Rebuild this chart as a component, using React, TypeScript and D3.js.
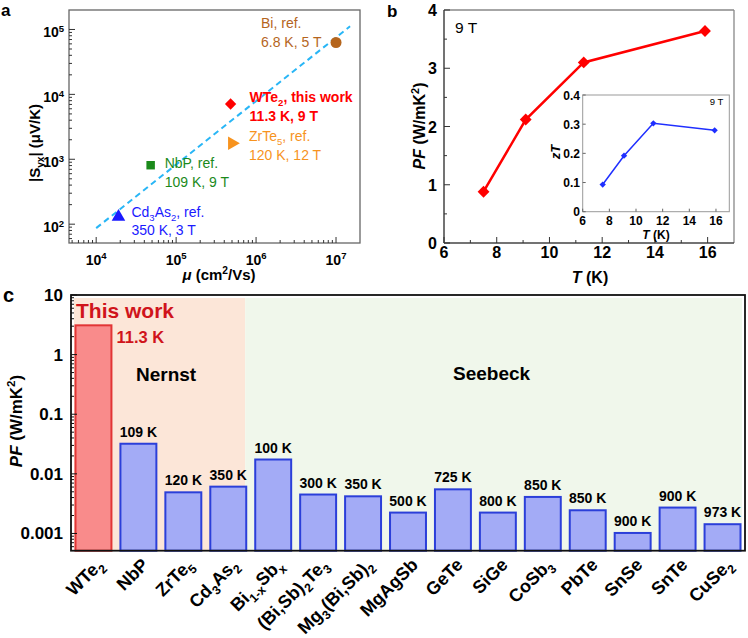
import React from "react";
import * as d3 from "d3";

const FONT = "'Liberation Sans', Arial, Helvetica, sans-serif";

// ---- panel a: |Syx| vs mobility
const scatterNames = ["Bi, ref.", "WTe_{2}, this work", "ZrTe_{5}, ref.", "NbP, ref.", "Cd_{3}As_{2}, ref."];
const scatterConditions = ["6.8 K, 5 T", "11.3 K, 9 T", "120 K, 12 T", "109 K, 9 T", "350 K, 3 T"];
const scatterMobility = [1e7, 4.8e5, 5e5, 4.8e4, 1.9e4];
const scatterSyx = [6.3e4, 7.1e3, 1.77e3, 8.1e2, 1.3e2];
const scatterColors = ["#b5651d", "#ff0000", "#f7931e", "#1b8a1b", "#1a1aff"];
const scatterShapes = ["circle", "diamond", "triangleRight", "square", "triangle"];
const fitMobility = [1e4, 1.5e7];
const fitSyx = [87, 1.12e5];
const mobilityTicks = [1e4, 1e5, 1e6, 1e7];
const syxTicks = [1e2, 1e3, 1e4, 1e5];

// ---- panel b: PF and zT vs T
const tempK = [7.5, 9.1, 11.3, 15.9];
const powerFactor = [0.88, 2.12, 3.1, 3.64];
const zTValues = [0.093, 0.192, 0.303, 0.279];
const tTicks = [6, 8, 10, 12, 14, 16];
const pfTicks = [0, 1, 2, 3, 4];
const zTTicks = [0, 0.1, 0.2, 0.3, 0.4];

// ---- panel c: PF comparison
const materials = [
  "WTe_{2}", "NbP", "ZrTe_{5}", "Cd_{3}As_{2}", "Bi_{1-x}Sb_{x}", "(Bi,Sb)_{2}Te_{3}",
  "Mg_{3}(Bi,Sb)_{2}", "MgAgSb", "GeTe", "SiGe", "CoSb_{3}", "PbTe", "SnSe", "SnTe", "CuSe_{2}",
];
const pfValues = [3.1, 0.032, 0.0049, 0.0061, 0.0174, 0.0045, 0.0042, 0.00224, 0.0055, 0.00224, 0.0041, 0.00245, 0.00102, 0.00272, 0.00143];
const tempLabels = ["11.3 K", "109 K", "120 K", "350 K", "100 K", "300 K", "350 K", "500 K", "725 K", "800 K", "850 K", "850 K", "900 K", "900 K", "973 K"];
const mechanism = ["Nernst", "Nernst", "Nernst", "Nernst", "Seebeck", "Seebeck", "Seebeck", "Seebeck", "Seebeck", "Seebeck", "Seebeck", "Seebeck", "Seebeck", "Seebeck", "Seebeck"];
const pfLogTicks = [10, 1, 0.1, 0.01, 0.001];
const pfLogTickLabels = ["10", "1", "0.1", "0.01", "0.001"];

// rich text: _{sub} ^{sup} *italic*
function parseRich(s: string) {
  const parts: { kind: string; text: string }[] = [];
  const re = /([_^])\{([^}]*)\}|\*([^*]+)\*/g;
  let last = 0;
  let m: RegExpExecArray | null;
  while ((m = re.exec(s))) {
    if (m.index > last) parts.push({ kind: "n", text: s.slice(last, m.index) });
    if (m[3]) parts.push({ kind: "i", text: m[3] });
    else parts.push({ kind: m[1] === "_" ? "sub" : "sup", text: m[2] });
    last = re.lastIndex;
  }
  if (last < s.length) parts.push({ kind: "n", text: s.slice(last) });
  return parts;
}

function Rich({ s, size }: { s: string; size: number }) {
  const parts = parseRich(s);
  let shift = 0;
  return (
    <>
      {parts.map((p, i) => {
        const target = p.kind === "sub" ? size * 0.28 : p.kind === "sup" ? -size * 0.4 : 0;
        const dy = target - shift;
        shift = target;
        const small = p.kind === "sub" || p.kind === "sup";
        return (
          <tspan key={i} dy={dy !== 0 ? dy : undefined} fontSize={small ? size * 0.68 : undefined} fontStyle={p.kind === "i" ? "italic" : undefined}>
            {p.text}
          </tspan>
        );
      })}
    </>
  );
}

function logMinor(domain: number[]) {
  const out: number[] = [];
  const lo = Math.floor(Math.log10(domain[0]));
  const hi = Math.ceil(Math.log10(domain[1]));
  for (let e = lo; e <= hi; e++) {
    for (let k = 2; k <= 9; k++) {
      const v = k * Math.pow(10, e);
      if (v > domain[0] && v < domain[1]) out.push(v);
    }
  }
  return out;
}

function symbolPath(shape: string, size: number) {
  const type =
    shape === "circle" ? d3.symbolCircle :
    shape === "square" ? d3.symbolSquare :
    shape === "diamond" ? d3.symbolSquare :
    d3.symbolTriangle;
  return d3.symbol().type(type).size(size)() as string;
}
function symbolRotate(shape: string) {
  return shape === "diamond" ? 45 : shape === "triangleRight" ? 90 : 0;
}

function PanelA() {
  const x = d3.scaleLog().domain([Math.pow(10, 3.66), Math.pow(10, 7.3)]).range([69, 360]);
  const y = d3.scaleLog().domain([Math.pow(10, 1.71), Math.pow(10, 5.3)]).range([243, 10]);
  const [x0, x1] = x.range();
  const [y0, y1] = y.range();
  const fit = d3.line<number>().x((d) => x(fitMobility[d])).y((d) => y(fitSyx[d]))([0, 1]) as string;
  const labelOffsets = [
    [-75, -14],
    [19, -2],
    [17, -2],
    [14, 3],
    [13, 0],
  ];
  const sizes = [95, 64, 80, 72, 80];
  return (
    <g fontFamily={FONT}>
      <rect x={x0} y={y1} width={x1 - x0} height={y0 - y1} fill="none" stroke="#666" strokeWidth={1.3} />
      {syxTicks.map((t) => (
        <g key={t}>
          <line x1={x0} x2={x0 + 6} y1={y(t)} y2={y(t)} stroke="#333" />
          <text x={64} y={y(t) + 8} textAnchor="end" fontWeight="bold" fontSize={14}>
            <Rich s={`10^{${Math.log10(t)}}`} size={14} />
          </text>
        </g>
      ))}
      {logMinor(y.domain()).map((t) => (
        <line key={t} x1={x0} x2={x0 + 3} y1={y(t)} y2={y(t)} stroke="#333" />
      ))}
      {mobilityTicks.map((t) => (
        <g key={t}>
          <line x1={x(t)} x2={x(t)} y1={y0} y2={y0 - 6} stroke="#333" />
          <text x={x(t)} y={265} textAnchor="middle" fontWeight="bold" fontSize={14}>
            <Rich s={`10^{${Math.log10(t)}}`} size={14} />
          </text>
        </g>
      ))}
      {logMinor(x.domain()).map((t) => (
        <line key={t} x1={x(t)} x2={x(t)} y1={y0} y2={y0 - 3} stroke="#333" />
      ))}
      <path d={fit} stroke="#29b6f6" strokeWidth={2} strokeDasharray="6,4" fill="none" />
      {scatterNames.map((n, i) => {
        const px = x(scatterMobility[i]);
        const py = y(scatterSyx[i]);
        const bold = i === 1;
        const [dx, dy] = labelOffsets[i];
        return (
          <g key={n}>
            <path
              d={symbolPath(scatterShapes[i], sizes[i])}
              transform={`translate(${px},${py}) rotate(${symbolRotate(scatterShapes[i])})`}
              fill={scatterColors[i]}
            />
            <text x={px + dx} y={py + dy} fill={scatterColors[i]} fontSize={14} fontWeight={bold ? "bold" : "normal"}>
              <Rich s={n} size={14} />
            </text>
            <text x={px + dx} y={py + dy + 18.5} fill={scatterColors[i]} fontSize={14} fontWeight={bold ? "bold" : "normal"}>
              {scatterConditions[i]}
            </text>
          </g>
        );
      })}
      <text transform="translate(40,143) rotate(-90)" textAnchor="middle" fontWeight="bold" fontSize={15}>
        <Rich s="|S_{yx}| (μV/K)" size={15} />
      </text>
      <text x={219} y={280} textAnchor="middle" fontWeight="bold" fontSize={15}>
        <Rich s="*μ* (cm^{2}/Vs)" size={15} />
      </text>
      <text x={1} y={16} fontWeight="bold" fontSize={17}>a</text>
    </g>
  );
}

function PanelB() {
  const x = d3.scaleLinear().domain([6, 17]).range([444, 734]);
  const y = d3.scaleLinear().domain([0, 4]).range([243, 10]);
  const [x0, x1] = x.range();
  const [y0, y1] = y.range();
  const line = d3.line<number>().x((d, i) => x(tempK[i])).y((d) => y(d));

  const ix = d3.scaleLinear().domain([6, 17]).range([582.7, 729.3]);
  const iy = d3.scaleLinear().domain([0, 0.4]).range([211.7, 95]);
  const [ix0, ix1] = ix.range();
  const [iy0, iy1] = iy.range();
  const iline = d3.line<number>().x((d, i) => ix(tempK[i])).y((d) => iy(d));
  const diamond = (s: number) => symbolPath("diamond", s);

  return (
    <g fontFamily={FONT}>
      <line x1={x0} x2={x1} y1={y1} y2={y1} stroke="#888" strokeWidth={1.3} />
      <line x1={x1} x2={x1} y1={y1} y2={y0} stroke="#888" strokeWidth={1.3} />
      <line x1={x0} x2={x1} y1={y0} y2={y0} stroke="#444" strokeWidth={1.5} />
      <line x1={x0} x2={x0} y1={y1} y2={y0} stroke="#444" strokeWidth={1.5} />
      {pfTicks.map((t) => (
        <g key={t}>
          <line x1={x0} x2={x0 + 6} y1={y(t)} y2={y(t)} stroke="#333" />
          <text x={437} y={y(t) + 6} textAnchor="end" fontWeight="bold" fontSize={16}>{t}</text>
        </g>
      ))}
      {d3.range(0.5, 4, 1).map((t) => (
        <line key={t} x1={x0} x2={x0 + 3} y1={y(t)} y2={y(t)} stroke="#333" />
      ))}
      {tTicks.map((t) => (
        <g key={t}>
          <line x1={x(t)} x2={x(t)} y1={y0} y2={y0 - 6} stroke="#333" />
          <text x={x(t)} y={258} textAnchor="middle" fontWeight="bold" fontSize={16}>{t}</text>
        </g>
      ))}
      {d3.range(7, 17, 2).map((t) => (
        <line key={t} x1={x(t)} x2={x(t)} y1={y0} y2={y0 - 3} stroke="#333" />
      ))}
      <path d={line(powerFactor) as string} stroke="#ff0000" strokeWidth={2.5} fill="none" />
      {powerFactor.map((v, i) => (
        <path key={i} d={diamond(70)} transform={`translate(${x(tempK[i])},${y(v)}) rotate(45)`} fill="#ff0000" />
      ))}
      <text x={455} y={33} fontSize={15.5}>9 T</text>
      <text transform="translate(425,126) rotate(-90)" textAnchor="middle" fontWeight="bold" fontSize={16}>
        <Rich s="*PF* (W/mK^{2})" size={16} />
      </text>
      <text x={590} y={283} textAnchor="middle" fontWeight="bold" fontSize={16}>
        <Rich s="*T* (K)" size={16} />
      </text>

      {/* inset */}
      <rect x={ix0} y={iy1} width={ix1 - ix0} height={iy0 - iy1} fill="#fff" stroke="#999" strokeWidth={1} />
      {zTTicks.map((t) => (
        <g key={t}>
          <line x1={ix0} x2={ix0 + 3} y1={iy(t)} y2={iy(t)} stroke="#666" />
          <text x={580} y={iy(t) + 4.5} textAnchor="end" fontWeight="bold" fontSize={12}>{t}</text>
        </g>
      ))}
      {tTicks.map((t) => (
        <g key={t}>
          <line x1={ix(t)} x2={ix(t)} y1={iy0} y2={iy0 - 3} stroke="#666" />
          <text x={ix(t)} y={225} textAnchor="middle" fontWeight="bold" fontSize={12}>{t}</text>
        </g>
      ))}
      <path d={iline(zTValues) as string} stroke="#1f2fff" strokeWidth={1.5} fill="none" />
      {zTValues.map((v, i) => (
        <path key={i} d={diamond(20)} transform={`translate(${ix(tempK[i])},${iy(v)}) rotate(45)`} fill="#1f2fff" />
      ))}
      <text x={ix1 - 6} y={105} textAnchor="end" fontSize={9.5}>9 T</text>
      <text transform="translate(560,152) rotate(-90)" textAnchor="middle" fontWeight="bold" fontSize={13}>
        <Rich s="*zT*" size={13} />
      </text>
      <text x={656} y={239} textAnchor="middle" fontWeight="bold" fontSize={12}>
        <Rich s="*T* (K)" size={12} />
      </text>
      <text x={387} y={17} fontWeight="bold" fontSize={17}>b</text>
    </g>
  );
}

function PanelC() {
  const x = d3.scaleBand<string>().domain(materials).range([71, 745]).paddingInner(0.2).paddingOuter(0.1);
  const y = d3.scaleLog().domain([5.14e-4, 10]).range([550.7, 295]);
  const [x0, x1] = x.range();
  const [y0, y1] = y.range();
  const bw = x.bandwidth();
  const nernstLast = materials[mechanism.lastIndexOf("Nernst")];
  const split = (x(nernstLast) as number) + bw - 1;
  return (
    <g fontFamily={FONT}>
      <rect x={74} y={298} width={split - 74} height={y0 - 298} fill="#fce6d8" />
      <rect x={split} y={298} width={742 - split} height={y0 - 298} fill="#f0f7eb" />
      {materials.map((m, i) => {
        const bx = x(m) as number;
        const by = y(pfValues[i]);
        const own = i === 0;
        return (
          <g key={m}>
            <rect
              x={bx}
              y={by}
              width={bw}
              height={y0 - by}
              fill={own ? "#f98b8b" : "#a3abf6"}
              stroke={own ? "#e23535" : "#2b3fd9"}
              strokeWidth={2}
            />
            {!own && (
              <text x={bx + bw / 2} y={by - 7} textAnchor="middle" fontWeight="bold" fontSize={14}>
                {tempLabels[i]}
              </text>
            )}
            <text
              transform={`translate(${bx + bw / 2 + 11},${566}) rotate(-45)`}
              textAnchor="end"
              fontWeight="bold"
              fontSize={18}
            >
              <Rich s={m} size={18} />
            </text>
          </g>
        );
      })}
      <text x={76} y={318} fill="#d0141b" fontWeight="bold" fontSize={21}>This work</text>
      <text x={(x(materials[0]) as number) + bw + 5} y={343} fill="#d0141b" fontWeight="bold" fontSize={16.5}>
        {tempLabels[0]}
      </text>
      <text x={136} y={381} fontWeight="bold" fontSize={19}>Nernst</text>
      <text x={453} y={380} fontWeight="bold" fontSize={19}>Seebeck</text>
      <rect x={x0} y={y1} width={x1 - x0} height={y0 - y1} fill="none" stroke="#111" strokeWidth={1.8} />
      {pfLogTicks.map((t, i) => (
        <g key={t}>
          <line x1={x0} x2={x0 + 6} y1={y(t)} y2={y(t)} stroke="#111" />
          <text x={63} y={y(t) + 6} textAnchor="end" fontWeight="bold" fontSize={17}>{pfLogTickLabels[i]}</text>
        </g>
      ))}
      {logMinor(y.domain()).map((t) => (
        <line key={t} x1={x0} x2={x0 + 3} y1={y(t)} y2={y(t)} stroke="#111" />
      ))}
      <text transform="translate(22,421) rotate(-90)" textAnchor="middle" fontWeight="bold" fontSize={17}>
        <Rich s="*PF* (W/mK^{2})" size={17} />
      </text>
      <text x={3} y={302} fontWeight="bold" fontSize={20}>c</text>
    </g>
  );
}

export default function App() {
  return (
    <svg width={748} height={638} style={{ position: "absolute", left: 0, top: 0, background: "#fff" }}>
      <PanelA />
      <PanelB />
      <PanelC />
    </svg>
  );
}
